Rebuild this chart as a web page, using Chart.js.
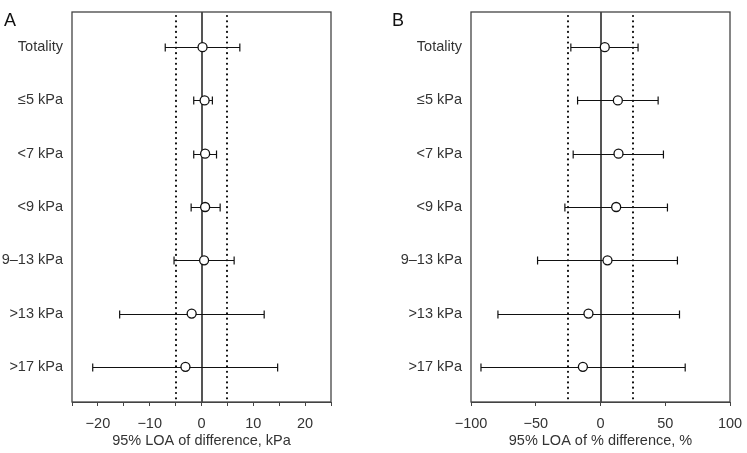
<!DOCTYPE html>
<html>
<head>
<meta charset="utf-8">
<script src="https://cdn.jsdelivr.net/npm/chart.js@4/dist/chart.umd.min.js"></script>
<style>
  html, body { margin: 0; padding: 0; background: #fff; }
  #wrap { position: relative; width: 747px; height: 453px; }
  .pane { position: absolute; top: 0; height: 453px; }
  .letter { position: absolute; top: 10px; font: 18px "Liberation Sans", Arial, sans-serif; color: #111; }
</style>
</head>
<body>
<div id="wrap">
  <div class="pane" style="left:0;width:373px"><canvas id="chartA"></canvas></div>
  <div class="pane" style="left:373px;width:374px"><canvas id="chartB"></canvas></div>
  <div class="letter" style="left:4px">A</div>
  <div class="letter" style="left:392px">B</div>
</div>
<script>
const groups = ["Totality", "≤5 kPa", "<7 kPa", "<9 kPa", "9–13 kPa", ">13 kPa", ">17 kPa"];

// panel A: difference, kPa
const meanA = [0.2, 0.6, 0.7, 0.7, 0.5, -1.9, -3.1];
const lowA = [-7.0, -1.5, -1.5, -2.0, -5.3, -15.8, -21.0];
const highA = [7.4, 2.1, 2.9, 3.6, 6.3, 12.1, 14.7];
const limitsA = [-5, 5];

// panel B: % difference
const meanB = [3.3, 13.4, 13.9, 12.1, 5.4, -9.3, -13.6];
const lowB = [-22.9, -17.7, -21.1, -27.5, -48.6, -79.2, -92.3];
const highB = [29.0, 44.5, 48.6, 51.7, 59.4, 61.0, 65.4];
const limitsB = [-25, 25];

const FONT = "'Liberation Sans', Arial, sans-serif";
const TEXT = "#333";

function minus(v) {
  return v < 0 ? "\u2212" + Math.abs(v) : String(v);
}

// draws reference lines, error bars and the frame from the scales
const forestPlugin = {
  id: "forest",
  beforeDatasetsDraw(chart, args, opts) {
    const ctx = chart.ctx;
    const x = chart.scales.x, y = chart.scales.y;
    const area = chart.chartArea;
    ctx.save();
    // dotted limits
    ctx.strokeStyle = "#111";
    ctx.lineWidth = 2.2;
    ctx.lineCap = "round";
    ctx.setLineDash([0.01, 5.3]);
    opts.limits.forEach(v => {
      const px = Math.round(x.getPixelForValue(v));
      ctx.beginPath();
      ctx.moveTo(px, area.top + 4);
      ctx.lineTo(px, area.bottom);
      ctx.stroke();
    });
    ctx.setLineDash([]);
    ctx.lineCap = "butt";
    // zero line
    ctx.strokeStyle = "#555";
    ctx.lineWidth = 2;
    const zx = Math.round(x.getPixelForValue(0));
    ctx.beginPath();
    ctx.moveTo(zx, area.top);
    ctx.lineTo(zx, area.bottom);
    ctx.stroke();
    // error bars
    ctx.strokeStyle = "#111";
    ctx.lineWidth = 1.2;
    opts.low.forEach((lo, i) => {
      const py = Math.round(y.getPixelForValue(i + 1)) + 0.5;
      const x1 = x.getPixelForValue(lo);
      const x2 = x.getPixelForValue(opts.high[i]);
      ctx.beginPath();
      ctx.moveTo(x1, py);
      ctx.lineTo(x2, py);
      ctx.moveTo(x1, py - 4);
      ctx.lineTo(x1, py + 4);
      ctx.moveTo(x2, py - 4);
      ctx.lineTo(x2, py + 4);
      ctx.stroke();
    });
    ctx.restore();
  },
  afterDraw(chart) {
    const ctx = chart.ctx;
    const a = chart.chartArea;
    ctx.save();
    ctx.strokeStyle = "#444";
    ctx.lineWidth = 1.3;
    ctx.strokeRect(a.left, a.top, a.right - a.left, a.bottom - a.top);
    ctx.restore();
  }
};

function makeChart(id, means, low, high, limits, xmin, xmax, step, labelStep, title, yWidth, padRight) {
  return new Chart(document.getElementById(id), {
    type: "scatter",
    data: {
      datasets: [{
        data: means.map((m, i) => ({ x: m, y: i + 1 })),
        pointStyle: "circle",
        pointRadius: 4.5,
        pointHoverRadius: 4.5,
        pointBorderWidth: 1.3,
        borderColor: "#111",
        backgroundColor: "#fff"
      }]
    },
    options: {
      responsive: true,
      maintainAspectRatio: false,
      animation: false,
      events: [],
      layout: { padding: { left: 0, right: padRight, top: 12, bottom: 0 } },
      plugins: {
        legend: { display: false },
        tooltip: { enabled: false },
        forest: { limits: limits, low: low, high: high }
      },
      scales: {
        x: {
          type: "linear",
          min: xmin,
          max: xmax,
          afterFit: s => { s.height = 51; s.paddingLeft = 0; s.paddingRight = 0; },
          border: { display: true, color: "#444", width: 1 },
          grid: { display: true, drawOnChartArea: false, drawTicks: true, tickLength: 4, color: "#444" },
          ticks: {
            stepSize: step,
            padding: 9,
            color: TEXT,
            font: { family: FONT, size: 14.5 },
            maxRotation: 0,
            autoSkip: false,
            callback: v => (v % labelStep === 0 && Math.abs(v) < xmax) || (labelStep === step) ? minus(v) : ""
          },
          title: {
            display: true,
            text: title,
            color: TEXT,
            font: { family: FONT, size: 14.5 },
            padding: { top: 0, bottom: 3 }
          }
        },
        y: {
          type: "linear",
          reverse: true,
          min: 0.34,
          max: 7.66,
          afterFit: s => { s.width = yWidth; s.paddingTop = 0; s.paddingBottom = 0; },
          afterBuildTicks: s => { s.ticks = groups.map((g, i) => ({ value: i + 1 })); },
          border: { display: false },
          grid: { display: false, drawTicks: false },
          ticks: {
            padding: 9,
            color: TEXT,
            font: { family: FONT, size: 14.5 },
            callback: v => groups[v - 1]
          }
        }
      }
    },
    plugins: [forestPlugin]
  });
}

makeChart("chartA", meanA, lowA, highA, limitsA, -25, 25, 5, 10, "95% LOA of difference, kPa", 72, 42);
makeChart("chartB", meanB, lowB, highB, limitsB, -100, 100, 50, 50, "95% LOA of % difference, %", 98, 17);
</script>
</body>
</html>
